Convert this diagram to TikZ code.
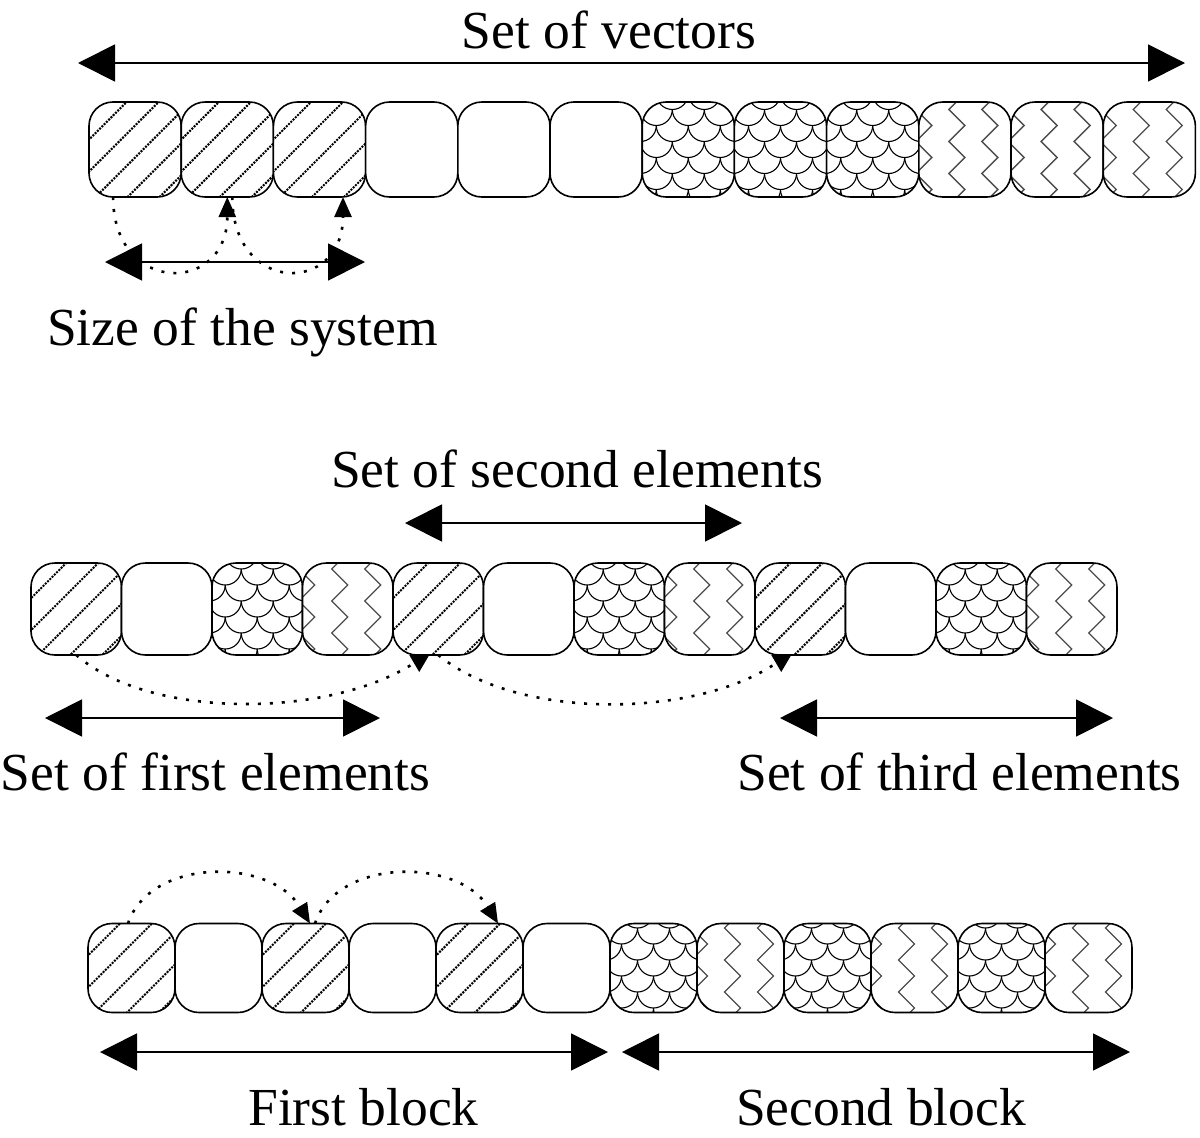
\documentclass[tikz,border=0pt]{standalone}
\usepackage{fontspec}
\setmainfont{Liberation Serif}
\usetikzlibrary{arrows.meta}
\tikzset{
    cell/.style={draw, line width=1.6pt, rounded corners=24pt, fill=white, inner sep=0pt, outer sep=0pt},
    rowA/.style={cell, minimum width=92.2pt, minimum height=95pt},
    rowB/.style={cell, minimum width=90.5pt, minimum height=92pt},
    rowC/.style={cell, minimum width=87pt, minimum height=89pt},
    plain/.style={},
    hatch/.style={path picture={
        \begin{scope}[shift={(path picture bounding box.center)}, sharp corners]
        \foreach \i in {-160,-128,...,160}
            \draw[line width=2.1pt, dash pattern=on 2pt off 1.2pt] (\i pt,-8pt) ++(-60pt,-60pt) -- ++(120pt,120pt);
        \end{scope}}},
    scales/.style={path picture={
        \begin{scope}[shift={(path picture bounding box.center)}, sharp corners]
        \foreach \j in {-4,...,4}
            \foreach \i in {-4,...,4}
                \draw[line width=1.1pt] ({(2*\i+mod(\j+10,2))*16pt-16pt},{\j*16pt+8pt}) arc[start angle=180, end angle=360, radius=16pt];
        \end{scope}}},
    zigzag/.style={path picture={
        \begin{scope}[shift={(path picture bounding box.center)}, sharp corners]
        \foreach \x in {-66,-33,...,66}
            \draw[line width=1.3pt, black!70] (\x pt,-72pt) \foreach \k in {1,...,5} { -- ++(-16pt,16pt) -- ++(16pt,16pt)};
        \end{scope}}},
    span/.style={{Triangle[length=37pt,width=37pt]}-{Triangle[length=37pt,width=37pt]}, line width=1.8pt},
    hop/.style={-{Triangle[length=20pt,width=17pt]}, line width=2.6pt, dash pattern=on 3pt off 9pt},
    lbl/.style={font=\fontsize{53.5}{60}\selectfont, anchor=base, inner sep=0pt},
}

\begin{document}
\begin{tikzpicture}[x=1pt, y=-1pt]
\useasboundingbox (0,0) rectangle (1200,1138);

\foreach \p [count=\i] in {hatch,hatch,hatch,plain,plain,plain,scales,scales,scales,zigzag,zigzag,zigzag}
    \node[rowA,\p] (a\i) at ({89+92.2*(\i-0.5)},149.5) {};
\foreach \p [count=\i] in {hatch,plain,scales,zigzag,hatch,plain,scales,zigzag,hatch,plain,scales,zigzag}
    \node[rowB,\p] (b\i) at ({31+90.5*(\i-0.5)},609) {};
\foreach \p [count=\i] in {hatch,plain,hatch,plain,hatch,plain,scales,zigzag,scales,zigzag,scales,zigzag}
    \node[rowC,\p] (c\i) at ({88+87*(\i-0.5)},968) {};

\coordinate (vecL) at (78,63);
\coordinate (vecR) at (1185,63);
\draw[span] (vecL) -- (vecR);
\node[lbl] (vecT) at (609,48) {Set of vectors};

\draw[hop] ([xshift=-22pt]a1.south) .. controls +(0,98) and +(0,98) .. (a2.south);
\draw[hop] ([xshift=5pt]a2.south) .. controls +(0,98) and +(0,98) .. ([xshift=23.5pt]a3.south);
\coordinate (sizeL) at (105,262);
\coordinate (sizeR) at (365,262);
\draw[span] (sizeL) -- (sizeR);
\node[lbl] (sizeT) at (242.5,345) {Size of the system};

\node[lbl] (secT) at (577,487) {Set of second elements};
\coordinate (secL) at (405,523);
\coordinate (secR) at (742,523);
\draw[span] (secL) -- (secR);

\draw[hop, -] (b1.south) .. controls +(74,65) and +(-85,55) .. ([xshift=-24pt,yshift=-8pt]b5.south);
\draw[hop, -] (b5.south) .. controls +(82,67) and +(-78,54) .. ([xshift=-24pt,yshift=-8pt]b9.south);
\fill ([xshift=-29pt]b5.south) -- ++(20,0) -- ++(-10,17) -- cycle;
\fill ([xshift=-29pt]b9.south) -- ++(20,0) -- ++(-10,17) -- cycle;

\coordinate (firL) at (45,718);
\coordinate (firR) at (380,718);
\draw[span] (firL) -- (firR);
\node[lbl] (firT) at (215.5,790) {Set of first elements};
\coordinate (thiL) at (780,718);
\coordinate (thiR) at (1113,718);
\draw[span] (thiL) -- (thiR);
\node[lbl] (thiT) at (959.5,790) {Set of third elements};

\draw[hop] ([xshift=-3.5pt]c1.north) .. controls +(22,-66) and +(-40,-66) .. ([xshift=4.5pt]c3.north);
\draw[hop] ([xshift=9.5pt]c3.north) .. controls +(22,-66) and +(-40,-66) .. ([xshift=18.5pt]c5.north);

\coordinate (blkA) at (100,1052);
\coordinate (blkB) at (608,1052);
\coordinate (blkC) at (622,1052);
\coordinate (blkD) at (1130,1052);
\draw[span] (blkA) -- (blkB);
\draw[span] (blkC) -- (blkD);
\node[lbl] (blkT1) at (363.5,1125) {First block};
\node[lbl] (blkT2) at (881,1125) {Second block};
\end{tikzpicture}
\end{document}
